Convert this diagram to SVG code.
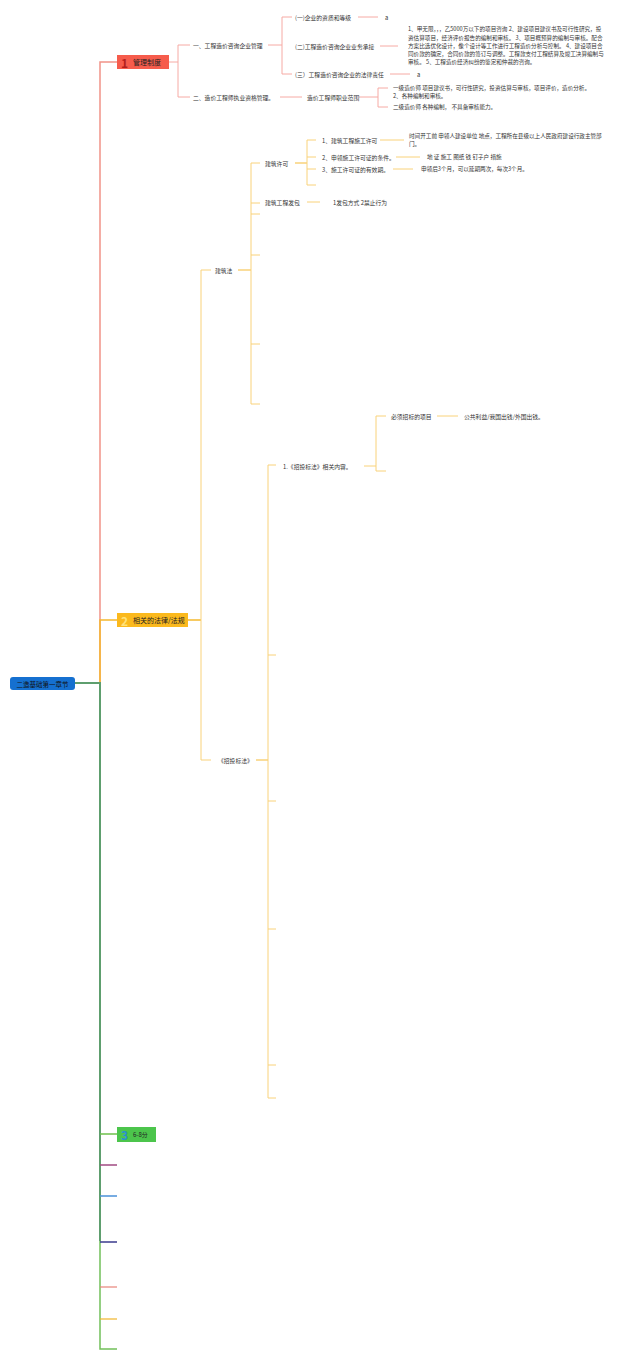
<svg xmlns="http://www.w3.org/2000/svg" width="640" height="1360" viewBox="0 0 640 1360">
<style>
text{font-family:"Noto Sans CJK SC","Noto Sans",sans-serif;fill:#333;dominant-baseline:central}
.t{font-size:5.8px}
.p{font-size:5.6px}
.n{font-size:7px;fill:#222}
.big{font-size:12px;font-weight:bold}
.c1{fill:none;stroke:#f6aaa4;stroke-width:1}
.c2{fill:none;stroke:#f9d27a;stroke-width:1}
</style>
<rect width="640" height="1360" fill="#fff"/>
<g id="connectors">
<path d="M100,683 V62 H117" fill="none" stroke="#f19388" stroke-width="1.5"/>
<path d="M100,683 V620 H117" fill="none" stroke="#f5b82e" stroke-width="1.5"/>
<path d="M100,1241 V1349 H117" fill="none" stroke="#72c05a" stroke-width="1.5"/>
<path d="M75,683 H100 V1241" fill="none" stroke="#5e9e6e" stroke-width="2"/>
<path d="M100,1134 H117" stroke="#6cc04a" stroke-width="1.5"/>
<path d="M100,1165 H117" stroke="#a04a82" stroke-width="1.5"/>
<path d="M100,1196 H117" stroke="#4a90d9" stroke-width="1.5"/>
<path d="M100,1242 H117" stroke="#3a3a8c" stroke-width="1.5"/>
<path d="M100,1287 H117" stroke="#e8837a" stroke-width="1.2"/>
<path d="M100,1319 H117" stroke="#f0b429" stroke-width="1.2"/>
<g class="c1">
<path d="M169,62 H178 M190,45 H178 V97 H190"/>
<path d="M268,45 H282 M292,17 H282 V74 H292"/>
<path d="M358,17 H378"/>
<path d="M380,46 H398"/>
<path d="M390,74 H410"/>
<path d="M280,97 H302"/>
<path d="M359,97 H378 M388,88 H378 V107 H388"/>
</g>
<g class="c2">
<path d="M188,620 H201" stroke="#f5b82e" stroke-width="1.5"/>
<path d="M211,270 H201 V760 H211"/>
<path d="M238,270 H251" stroke-width="1.5"/>
<path d="M260,163 H251 V404 H260 M251,203 H260 M251,214 H260 M251,255 H260 M251,344 H260"/>
<path d="M295,163 H307" stroke-width="1.5"/>
<path d="M316,140 H307 V185 H316 M307,157 H316 M307,169 H316"/>
<path d="M380,140 H404"/>
<path d="M396,157 H420"/>
<path d="M393,169 H413"/>
<path d="M307,202 H320"/>
<path d="M256,760 H268" stroke-width="1.5"/>
<path d="M276,465 H268 V1098 H276 M268,655 H276 M268,801 H276 M268,929 H276 M268,1065 H276"/>
<path d="M364,466 H376"/>
<path d="M386,416 H376 V471 H386"/>
<path d="M437,416 H458"/>
</g>
</g>
<g id="root">
<rect x="10" y="677" width="65" height="13" rx="3" fill="#1570d0"/>
<text x="42.5" y="683.5" text-anchor="middle" style="font-size:6.5px;fill:#111">二造基础第一章节</text>
</g>
<g id="node1">
<rect x="117" y="55" width="52" height="14" fill="#f65c4c"/>
<text x="121" y="62" class="big" style="fill:#b3201c">1</text>
<text x="133" y="62" class="n">管理制度</text>
</g>
<g id="node2">
<rect x="117" y="613" width="71" height="14" fill="#fbb91d"/>
<text x="121" y="620" class="big" style="fill:#ffe27a">2</text>
<text x="133" y="620" class="n">相关的法律/法规</text>
</g>
<g id="node3">
<rect x="117" y="1127" width="39" height="15" fill="#4cc54c"/>
<text x="121" y="1134.5" class="big" style="fill:#2a8fd0">3</text>
<text x="133" y="1134.5" class="n" style="font-size:6px">6-8分</text>
</g>
<g id="n1a"><text x="193" y="45" class="t">一、工程造价咨询企业管理</text></g>
<g id="n1a1"><text x="295" y="17" class="t">(一)企业的资质和等级</text></g>
<g id="n1a1a"><text x="385" y="17" class="t">a</text></g>
<g id="n1a2"><text x="295" y="46" class="t">(二)工程造价咨询企业业务承接</text></g>
<g id="n1a2a">
<text x="408" y="29" class="p">1、甲无限，，，乙5000万以下的项目咨询 2、建设项目建议书及可行性研究，投</text>
<text x="408" y="37.5" class="p">资估算项目，经济评价报告的编制和审核。 3、项目概预算的编制与审核。配合</text>
<text x="408" y="46" class="p">方案比选优化设计，像个设计等工作进行工程造价分析与控制。 4、建设项目合</text>
<text x="408" y="54" class="p">同价款的确定，合同价款的签订与调整。工程款支付工程结算及竣工决算编制与</text>
<text x="408" y="62" class="p">审核。 5、工程造价经济纠纷的鉴定和仲裁的咨询。</text>
</g>
<g id="n1a3"><text x="295" y="74" class="t">(三）工程造价咨询企业的法律责任</text></g>
<g id="n1a3a"><text x="417" y="74" class="t">a</text></g>
<g id="n1b"><text x="193" y="97" class="t">二、造价工程师执业资格管理。</text></g>
<g id="n1b1"><text x="307" y="97" class="t">造价工程师职业范围</text></g>
<g id="n1b1a">
<text x="393" y="87.5" class="p">一级造价师 项目建议书，可行性研究，投资估算与审核，项目评价，造价分析。</text>
<text x="393" y="95.5" class="p">2、各种编制和审核。</text>
</g>
<g id="n1b1b"><text x="393" y="107" class="p">二级造价师 各种编制， 不具备审核能力。</text></g>
<g id="n2a"><text x="215" y="270" class="t">建筑法</text></g>
<g id="n2a1"><text x="265" y="163" class="t">建筑许可</text></g>
<g id="n2a1a"><text x="322" y="140" class="t">1、建筑工程施工许可</text></g>
<g id="n2a1a1">
<text x="409" y="136" class="p">时间开工前 申领人建设单位 地点，工程所在县级以上人民政府建设行政主管部</text>
<text x="409" y="144" class="p">门。</text>
</g>
<g id="n2a1b"><text x="322" y="157" class="t">2、申领施工许可证的条件。</text></g>
<g id="n2a1b1"><text x="427" y="157" class="p">地 证 施工 图纸 钱 钉子户 措施</text></g>
<g id="n2a1c"><text x="322" y="169" class="t">3、施工许可证的有效期。</text></g>
<g id="n2a1c1"><text x="421" y="169" class="p">申领后3个月，可以延期两次，每次3个月。</text></g>
<g id="n2a2"><text x="265" y="202" class="t">建筑工程发包</text></g>
<g id="n2a2a"><text x="333" y="202" class="t">1发包方式 2禁止行为</text></g>
<g id="n2b"><text x="218" y="760" class="t">《招投标法》</text></g>
<g id="n2b1"><text x="283" y="466" class="t">1.《招投标法》相关内容。</text></g>
<g id="n2b1a"><text x="391" y="416" class="t">必须招标的项目</text></g>
<g id="n2b1a1"><text x="464" y="416" class="t">公共利益/我国出钱/外国出钱。</text></g>
</svg>
